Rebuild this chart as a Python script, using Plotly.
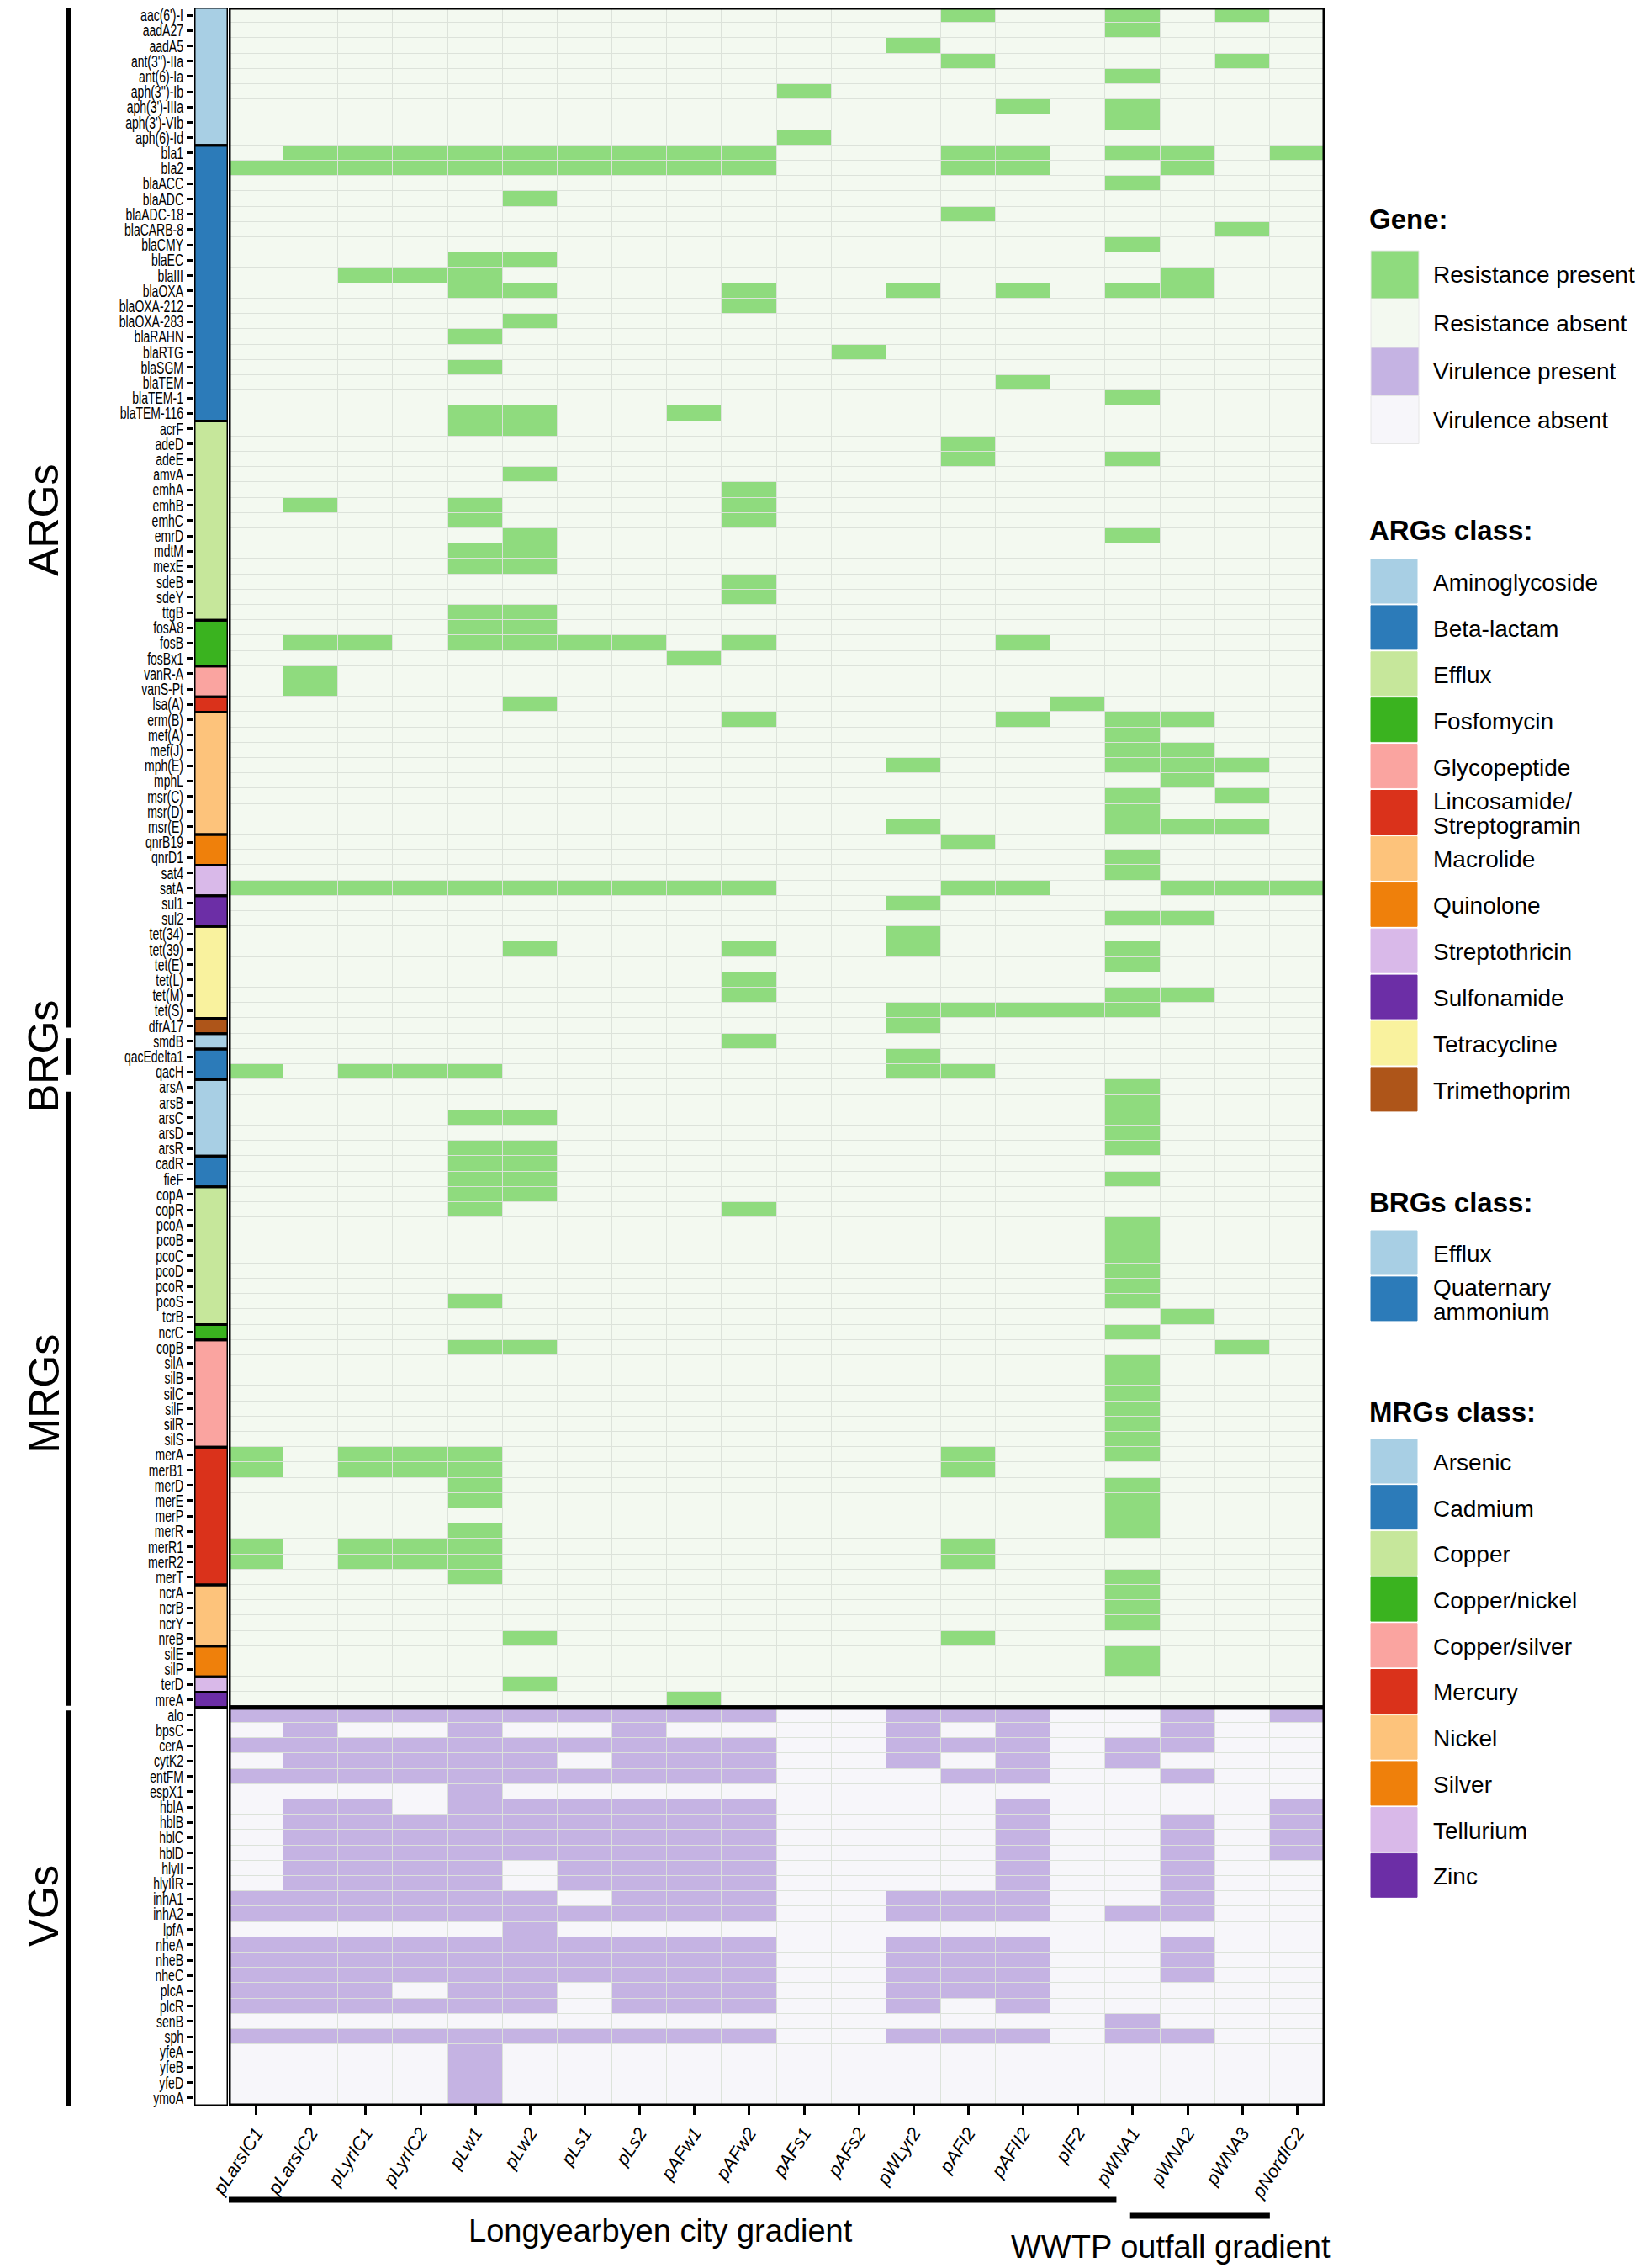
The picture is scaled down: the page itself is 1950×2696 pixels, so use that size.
import plotly.graph_objects as go

W, H = 1950, 2696

samples = ["pLarsIC1", "pLarsIC2", "pLyrIC1", "pLyrIC2", "pLw1", "pLw2", "pLs1", "pLs2",
           "pAFw1", "pAFw2", "pAFs1", "pAFs2", "pWLyr2", "pAFI2", "pAFII2", "pIF2",
           "pWNA1", "pWNA2", "pWNA3", "pNordIC2"]

# ---------------- ARGs ----------------
arg_genes = ["aac(6')-I", "aadA27", "aadA5", "ant(3'')-IIa", "ant(6)-Ia", "aph(3'')-Ib", "aph(3')-IIIa",
             "aph(3')-VIb", "aph(6)-Id",
             "bla1", "bla2", "blaACC", "blaADC", "blaADC-18", "blaCARB-8", "blaCMY", "blaEC", "blaIII",
             "blaOXA", "blaOXA-212", "blaOXA-283", "blaRAHN", "blaRTG", "blaSGM", "blaTEM", "blaTEM-1",
             "blaTEM-116",
             "acrF", "adeD", "adeE", "amvA", "emhA", "emhB", "emhC", "emrD", "mdtM", "mexE", "sdeB", "sdeY",
             "ttgB",
             "fosA8", "fosB", "fosBx1",
             "vanR-A", "vanS-Pt",
             "lsa(A)",
             "erm(B)", "mef(A)", "mef(J)", "mph(E)", "mphL", "msr(C)", "msr(D)", "msr(E)",
             "qnrB19", "qnrD1",
             "sat4", "satA",
             "sul1", "sul2",
             "tet(34)", "tet(39)", "tet(E)", "tet(L)", "tet(M)", "tet(S)",
             "dfrA17"]
arg_classes = (["Aminoglycoside"] * 9 + ["Beta-lactam"] * 18 + ["Efflux"] * 13 + ["Fosfomycin"] * 3 +
               ["Glycopeptide"] * 2 + ["Lincosamide/Streptogramin"] * 1 + ["Macrolide"] * 8 +
               ["Quinolone"] * 2 + ["Streptothricin"] * 2 + ["Sulfonamide"] * 2 + ["Tetracycline"] * 6 +
               ["Trimethoprim"] * 1)
arg_present = [
    [13, 16, 18], [16], [12], [13, 18], [16], [10], [14, 16], [16], [10],
    [1, 2, 3, 4, 5, 6, 7, 8, 9, 13, 14, 16, 17, 19],
    [0, 1, 2, 3, 4, 5, 6, 7, 8, 9, 13, 14, 17],
    [16], [5], [13], [18], [16], [4, 5], [2, 3, 4, 17],
    [4, 5, 9, 12, 14, 16, 17], [9], [5], [4], [11], [4], [14], [16], [4, 5, 8],
    [4, 5], [13], [13, 16], [5], [9], [1, 4, 9], [4, 9], [5, 16], [4, 5], [4, 5], [9], [9], [4, 5],
    [4, 5], [1, 2, 4, 5, 6, 7, 9, 14], [8],
    [1], [1],
    [5, 15],
    [9, 14, 16, 17], [16], [16, 17], [12, 16, 17, 18], [17], [16, 18], [16], [12, 16, 17, 18],
    [13], [16],
    [16], [0, 1, 2, 3, 4, 5, 6, 7, 8, 9, 13, 14, 17, 18, 19],
    [12], [16, 17],
    [12], [5, 9, 12, 16], [16], [9], [9, 16, 17], [12, 13, 14, 15, 16],
    [12],
]

# ---------------- BRGs ----------------
brg_genes = ["smdB", "qacEdelta1", "qacH"]
brg_classes = ["Efflux", "Quaternary ammonium", "Quaternary ammonium"]
brg_present = [[9], [12], [0, 2, 3, 4, 12, 13]]

# ---------------- MRGs ----------------
mrg_genes = ["arsA", "arsB", "arsC", "arsD", "arsR",
             "cadR", "fieF",
             "copA", "copR", "pcoA", "pcoB", "pcoC", "pcoD", "pcoR", "pcoS", "tcrB",
             "ncrC",
             "copB", "silA", "silB", "silC", "silF", "silR", "silS",
             "merA", "merB1", "merD", "merE", "merP", "merR", "merR1", "merR2", "merT",
             "ncrA", "ncrB", "ncrY", "nreB",
             "silE", "silP",
             "terD",
             "mreA"]
mrg_classes = (["Arsenic"] * 5 + ["Cadmium"] * 2 + ["Copper"] * 9 + ["Copper/nickel"] * 1 +
               ["Copper/silver"] * 7 + ["Mercury"] * 9 + ["Nickel"] * 4 + ["Silver"] * 2 +
               ["Tellurium"] * 1 + ["Zinc"] * 1)
mrg_present = [
    [16], [16], [4, 5, 16], [16], [4, 5, 16],
    [4, 5], [4, 5, 16],
    [4, 5], [4, 9], [16], [16], [16], [16], [16], [4, 16], [17],
    [16],
    [4, 5, 18], [16], [16], [16], [16], [16], [16],
    [0, 2, 3, 4, 13, 16], [0, 2, 3, 4, 13], [4, 16], [4, 16], [16], [4, 16], [0, 2, 3, 4, 13],
    [0, 2, 3, 4, 13], [4, 16],
    [16], [16], [16], [5, 13],
    [16], [16],
    [5],
    [8],
]

# ---------------- VGs ----------------
vg_genes = ["alo", "bpsC", "cerA", "cytK2", "entFM", "espX1", "hblA", "hblB", "hblC", "hblD", "hlyII",
            "hlyIIR", "inhA1", "inhA2", "lpfA", "nheA", "nheB", "nheC", "plcA", "plcR", "senB", "sph",
            "yfeA", "yfeB", "yfeD", "ymoA"]
vg_present = [
    [0, 1, 2, 3, 4, 5, 6, 7, 8, 9, 12, 13, 14, 17, 19],
    [1, 4, 7, 12, 14, 17],
    [0, 1, 2, 3, 4, 5, 6, 7, 8, 9, 12, 13, 14, 16, 17],
    [1, 2, 3, 4, 5, 7, 8, 9, 12, 14, 16],
    [0, 1, 2, 3, 4, 5, 6, 7, 8, 9, 13, 14, 17],
    [4],
    [1, 2, 4, 5, 6, 7, 8, 9, 14, 19],
    [1, 2, 3, 4, 5, 6, 7, 8, 9, 14, 17, 19],
    [1, 2, 3, 4, 5, 6, 7, 8, 9, 14, 17, 19],
    [1, 2, 3, 4, 5, 6, 7, 8, 9, 14, 17, 19],
    [1, 2, 3, 4, 6, 7, 8, 9, 14, 17],
    [1, 2, 3, 4, 6, 7, 8, 9, 14, 17],
    [0, 1, 2, 3, 4, 5, 7, 8, 9, 12, 13, 14, 17],
    [0, 1, 2, 3, 4, 5, 6, 7, 8, 9, 12, 13, 14, 16, 17],
    [5],
    [0, 1, 2, 3, 4, 5, 6, 7, 8, 9, 12, 13, 14, 17],
    [0, 1, 2, 3, 4, 5, 6, 7, 8, 9, 12, 13, 14, 17],
    [0, 1, 2, 3, 4, 5, 6, 7, 8, 9, 12, 13, 14, 17],
    [0, 1, 2, 4, 5, 7, 8, 9, 12, 13, 14],
    [0, 1, 2, 3, 4, 5, 7, 8, 9, 12, 14],
    [16],
    [0, 1, 2, 3, 4, 5, 6, 7, 8, 9, 12, 13, 14, 16, 17],
    [4], [4], [4], [4],
]

# ---------------- legend content ----------------
gene_legend_labels = ["Resistance present", "Resistance absent", "Virulence present", "Virulence absent"]
gene_colors = ["#8FDB7E", "#F3F9F0", "#C5B3E3", "#F7F6FA"]

arg_class_order = ["Aminoglycoside", "Beta-lactam", "Efflux", "Fosfomycin", "Glycopeptide",
                   "Lincosamide/Streptogramin", "Macrolide", "Quinolone", "Streptothricin", "Sulfonamide",
                   "Tetracycline", "Trimethoprim"]
arg_class_colors = ["#A8CFE4", "#2C7BB9", "#C6E79B", "#3AB31F", "#FAA4A0", "#DA321B", "#FDC37B",
                    "#EF800B", "#D9B9E9", "#6C2EA6", "#F9F29E", "#AE5519"]
brg_class_order = ["Efflux", "Quaternary ammonium"]
brg_class_colors = ["#A8CFE4", "#2C7BB9"]
mrg_class_order = ["Arsenic", "Cadmium", "Copper", "Copper/nickel", "Copper/silver", "Mercury", "Nickel",
                   "Silver", "Tellurium", "Zinc"]
mrg_class_colors = ["#A8CFE4", "#2C7BB9", "#C6E79B", "#3AB31F", "#FAA4A0", "#DA321B", "#FDC37B",
                    "#EF800B", "#D9B9E9", "#6C2EA6"]

group_names = ["ARGs", "BRGs", "MRGs", "VGs"]

# ---------------- assemble ----------------
genes = arg_genes + brg_genes + mrg_genes + vg_genes
n_rows = len(genes)
n_cols = len(samples)

row_group = (["ARGs"] * len(arg_genes) + ["BRGs"] * len(brg_genes) +
             ["MRGs"] * len(mrg_genes) + ["VGs"] * len(vg_genes))
row_class = arg_classes + brg_classes + mrg_classes + [""] * len(vg_genes)

arg_cmap = dict(zip(arg_class_order, arg_class_colors))
brg_cmap = dict(zip(brg_class_order, brg_class_colors))
mrg_cmap = dict(zip(mrg_class_order, mrg_class_colors))
row_color = ([arg_cmap[c] for c in arg_classes] + [brg_cmap[c] for c in brg_classes] +
             [mrg_cmap[c] for c in mrg_classes] + ["#FFFFFF"] * len(vg_genes))

present_all = arg_present + brg_present + mrg_present + vg_present
z = []
for i in range(n_rows):
    vir = row_group[i] == "VGs"
    row = []
    for j in range(n_cols):
        p = j in present_all[i]
        row.append((3 if p else 2) if vir else (1 if p else 0))
    z.append(row)

# discrete colourscale for main heatmap: 0 res absent, 1 res present, 2 vir absent, 3 vir present
main_cols = [gene_colors[1], gene_colors[0], gene_colors[3], gene_colors[2]]
main_cs = []
for k, c in enumerate(main_cols):
    main_cs.append([k / 4, c])
    main_cs.append([(k + 1) / 4, c])

uniq_cols = []
for c in row_color:
    if c not in uniq_cols:
        uniq_cols.append(c)
z_ann = [[uniq_cols.index(c)] for c in row_color]
nu = len(uniq_cols)
ann_cs = []
for k, c in enumerate(uniq_cols):
    ann_cs.append([k / nu, c])
    ann_cs.append([(k + 1) / nu, c])


def px(x):
    return x / W


def py(y):
    return 1 - y / H


TOP, BOT = 9, 2503
HM_L, HM_R = 272, 1575
AN_L, AN_R = 231, 271
FONT = "Liberation Sans, Arial"

fig = go.Figure()
fig.add_trace(go.Heatmap(
    z=z, x=list(range(n_cols)), y=list(range(n_rows)), xaxis="x", yaxis="y",
    colorscale=main_cs, zmin=-0.5, zmax=3.5, showscale=False, xgap=1, ygap=1, hoverinfo="skip"))
fig.add_trace(go.Heatmap(
    z=z_ann, x=[0], y=list(range(n_rows)), xaxis="x2", yaxis="y",
    colorscale=ann_cs, zmin=-0.5, zmax=nu - 0.5, showscale=False, hoverinfo="skip"))

shapes = []
annotations = []

# class blocks in annotation column
start = 0
for i in range(1, n_rows + 1):
    if i == n_rows or (row_group[i], row_class[i]) != (row_group[start], row_class[start]):
        shapes.append(dict(type="rect", xref="x2", yref="y", x0=-0.5, x1=0.5,
                           y0=start - 0.5, y1=i - 0.5, line=dict(color="black", width=3),
                           fillcolor="rgba(0,0,0,0)", layer="above"))
        start = i

# panel borders
n_res = len(arg_genes) + len(brg_genes) + len(mrg_genes)
shapes.append(dict(type="rect", xref="x", yref="y", x0=-0.5, x1=n_cols - 0.5, y0=-0.5, y1=n_res - 0.5,
                   line=dict(color="black", width=5), layer="above"))
shapes.append(dict(type="rect", xref="x", yref="y", x0=-0.5, x1=n_cols - 0.5, y0=n_res - 0.5,
                   y1=n_rows - 0.5, line=dict(color="black", width=5), layer="above"))

# group brackets on the left
group_extent = {}
for i, g in enumerate(row_group):
    a, b = group_extent.get(g, (i, i))
    group_extent[g] = (min(a, i), max(b, i))
bracket_pad = {"ARGs": (0.0, 0.4), "BRGs": (0.3, 0.3), "MRGs": (0.8, 0.1), "VGs": (0.2, -0.5)}
for g in group_names:
    a, b = group_extent[g]
    pa, pb = bracket_pad[g]
    shapes.append(dict(type="line", xref="paper", yref="y", x0=px(81), x1=px(81),
                       y0=a - 0.5 + pa, y1=b + 0.5 - pb, line=dict(color="black", width=6)))
    annotations.append(dict(xref="paper", yref="y", x=px(52), y=(a + b) / 2, text=g, textangle=-90,
                            showarrow=False, xanchor="center", yanchor="middle",
                            font=dict(family=FONT, size=50, color="black")))

# bottom gradient bars
shapes.append(dict(type="line", xref="x", yref="paper", x0=-0.5, x1=15.7, y0=py(2615), y1=py(2615),
                   line=dict(color="black", width=7)))
annotations.append(dict(xref="paper", yref="paper", x=px(785), y=py(2652), text="Longyearbyen city gradient",
                        showarrow=False, xanchor="center", yanchor="middle",
                        font=dict(family=FONT, size=38, color="black")))
shapes.append(dict(type="line", xref="x", yref="paper", x0=15.95, x1=18.5, y0=py(2634), y1=py(2634),
                   line=dict(color="black", width=7)))
annotations.append(dict(xref="paper", yref="paper", x=px(1392), y=py(2671), text="WWTP outfall gradient",
                        showarrow=False, xanchor="center", yanchor="middle",
                        font=dict(family=FONT, size=38, color="black")))

# legends
LEG_X, SW_X, TXT_X = 1626, 1630, 1702


def legend_block(title, title_y, labels, colors, top, step, size, outline):
    annotations.append(dict(xref="paper", yref="paper", x=px(LEG_X), y=py(title_y), text="<b>%s</b>" % title,
                            showarrow=False, xanchor="left", yanchor="middle",
                            font=dict(family=FONT, size=33, color="black")))
    for k, (lab, col) in enumerate(zip(labels, colors)):
        y0 = top + k * step
        shapes.append(dict(type="rect", xref="paper", yref="paper", x0=px(SW_X), x1=px(SW_X + size),
                           y0=py(y0), y1=py(y0 + size - (0 if outline else 3)), fillcolor=col,
                           line=dict(color="#E6E6E6" if outline else col, width=1)))
        cy = y0 + size / 2
        lines = lab.split("\n")
        for m, ln in enumerate(lines):
            off = (m - (len(lines) - 1) / 2) * 29
            annotations.append(dict(xref="paper", yref="paper", x=px(TXT_X), y=py(cy + off), text=ln,
                                    showarrow=False, xanchor="left", yanchor="middle",
                                    font=dict(family=FONT, size=28, color="black")))


legend_block("Gene:", 261, gene_legend_labels, gene_colors, 298, 57.5, 57, True)
legend_block("ARGs class:", 631, [c.replace("/", "/\n") for c in arg_class_order], arg_class_colors,
             665, 54.9, 55, False)
legend_block("BRGs class:", 1429, [c.replace(" ", "\n") for c in brg_class_order], brg_class_colors,
             1463, 54.9, 55, False)
legend_block("MRGs class:", 1678, mrg_class_order, mrg_class_colors, 1711, 54.7, 55, False)

fig.update_layout(
    width=W, height=H, margin=dict(l=0, r=0, t=0, b=0, autoexpand=False),
    paper_bgcolor="white", plot_bgcolor="#DCE2DA",
    xaxis=dict(domain=[px(HM_L), px(HM_R)], range=[-0.5, n_cols - 0.5], anchor="y", automargin=False,
               tickvals=list(range(n_cols)), ticktext=samples, tickangle=-57,
               ticks="outside", ticklen=10, tickwidth=3, tickcolor="black",
               tickfont=dict(family=FONT, size=22, color="black", style="italic"),
               showgrid=False, zeroline=False, showline=False),
    xaxis2=dict(domain=[px(AN_L), px(AN_R)], range=[-0.5, 0.5], anchor="y", showticklabels=False,
                automargin=False, ticks="", showgrid=False, zeroline=False, showline=False),
    yaxis=dict(domain=[py(BOT), py(TOP)], range=[n_rows - 0.5, -0.5], anchor="x2", automargin=False,
               tickvals=list(range(n_rows)), ticktext=genes, ticks="outside", ticklen=8, tickwidth=3,
               tickcolor="black",
               tickfont=dict(family="Liberation Sans, Arial", size=20, color="black"),
               showgrid=False, zeroline=False, showline=False),
    shapes=shapes, annotations=annotations, showlegend=False,
)

# gene labels in the reference use a narrow face: condense the rendered label text
condense_js = (
    "document.body.style.margin='0';document.body.style.overflow='hidden';"
    "document.querySelectorAll('.ytick text').forEach(function(t){"
    "var L=t.getComputedTextLength();"
    "t.setAttribute('textLength',(L*0.70).toFixed(1));"
    "t.setAttribute('lengthAdjust','spacingAndGlyphs');});"
)
fig.write_html("out.html", config={"displayModeBar": False}, post_script=condense_js)
